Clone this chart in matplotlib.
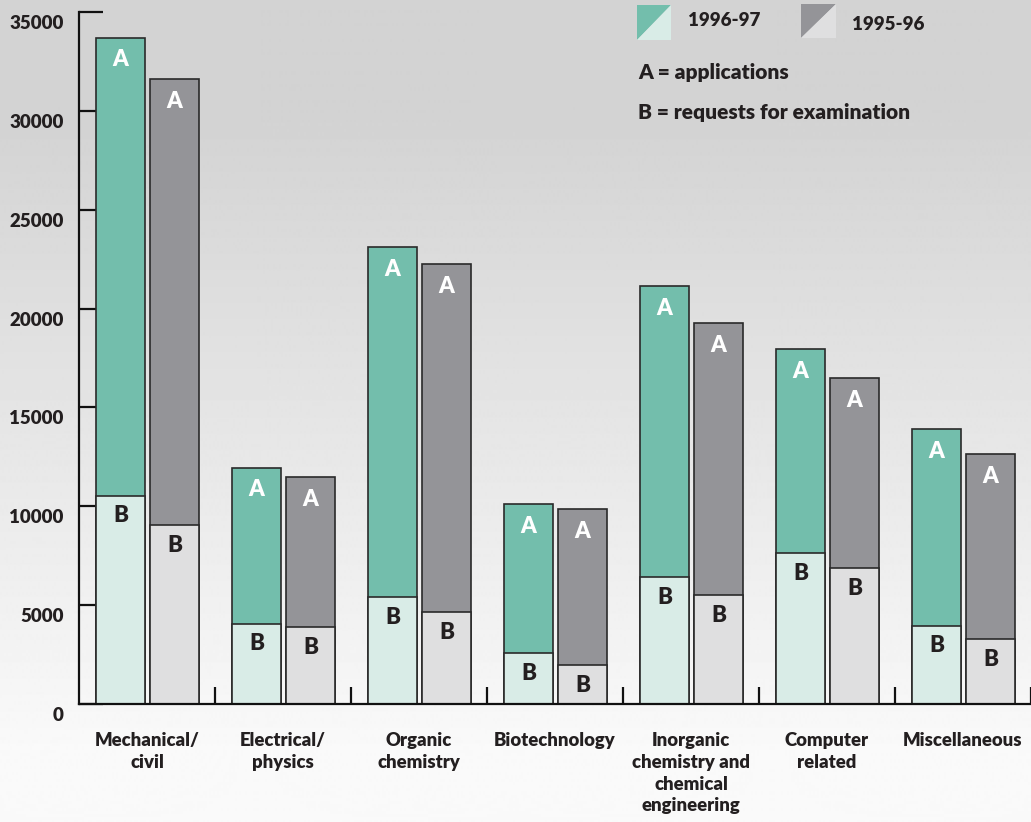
import numpy as np
import matplotlib
matplotlib.use("Agg")
import matplotlib.pyplot as plt
import matplotlib.transforms as mtransforms
from matplotlib.patches import Polygon

# ---- data ----
categories = ["Mechanical/\ncivil", "Electrical/\nphysics", "Organic\nchemistry",
              "Biotechnology", "Inorganic\nchemistry and\nchemical\nengineering",
              "Computer\nrelated", "Miscellaneous"]
apps_9697 = [33700, 11950, 23100, 10120, 21150, 17950, 13900]
exam_9697 = [10530, 4060, 5410, 2580, 6420, 7640, 3960]
apps_9596 = [31600, 11480, 22250, 9860, 19270, 16490, 12640]
exam_9596 = [9050, 3880, 4650, 1970, 5510, 6880, 3270]
yticks = [0, 5000, 10000, 15000, 20000, 25000, 30000, 35000]
series_labels = ["1996-97", "1995-96"]
notes = ["A = applications", "B = requests for examination"]

# ---- style ----
FONT = ["Lato", "DejaVu Sans"]
plt.rcParams['font.family'] = FONT
TXT = "#231f20"
EDGE = "#2a2a2a"
c_a1, c_b1 = "#73beac", "#d9ece7"
c_a2, c_b2 = "#949498", "#dfdfe0"

W, H = 1031, 822
fig = plt.figure(figsize=(W / 100, H / 100), dpi=100)

# background gradient
bg = fig.add_axes([0, 0, 1, 1], zorder=-10)
ys = np.arange(H)
vals = np.clip(211 + (ys - 120) * (250 - 211) / (760 - 120), 211, 250) / 255.0
img = np.repeat(vals[:, None], 2, axis=1)
bg.imshow(img, cmap="gray", vmin=0, vmax=1, aspect="auto", extent=[0, 1, 0, 1], origin="upper")
bg.axis("off")

ax = fig.add_axes([79 / W, (H - 704) / H, 1 - 79 / W, (704 - 12) / H])
ax.patch.set_alpha(0)
ax.set_xlim(0, 7)
ax.set_ylim(0, 35000)

n = len(categories)
x = np.arange(n)
bw = 0.36
off1, off2 = 0.125, 0.522
lw = 1.2

for i in range(n):
    for off, a, b, ca, cb, in [(off1, apps_9697[i], exam_9697[i], c_a1, c_b1),
                               (off2, apps_9596[i], exam_9596[i], c_a2, c_b2)]:
        ax.bar(x[i] + off, a, width=bw, align="edge", color=ca, edgecolor=EDGE, linewidth=lw, zorder=2)
        ax.bar(x[i] + off, b, width=bw, align="edge", color=cb, edgecolor=EDGE, linewidth=lw, zorder=3)
        cx = x[i] + off + bw / 2
        ax.annotate("A", (cx, a), xytext=(0, -16), textcoords="offset points",
                    ha="center", va="center", color="white", fontsize=16, fontweight="heavy", zorder=5)
        ax.annotate("B", (cx, b), xytext=(0, -14.5), textcoords="offset points",
                    ha="center", va="center", color=TXT, fontsize=16, fontweight="heavy", zorder=5)

for s in ["top", "right"]:
    ax.spines[s].set_visible(False)
for s in ["left", "bottom"]:
    ax.spines[s].set_linewidth(1.6)
    ax.spines[s].set_color("#111111")
    ax.spines[s].set_zorder(4)

ax.set_yticks(yticks)
ax.set_yticklabels([str(v) for v in yticks])
ax.tick_params(axis="y", direction="in", length=17, width=1.6, color="#111111",
               pad=11, labelsize=13.5, labelcolor=TXT)
shift = mtransforms.ScaledTranslation(0, -10 / 100, fig.dpi_scale_trans)
for lab in ax.get_yticklabels():
    lab.set_fontweight("heavy")
    lab.set_transform(lab.get_transform() + shift)

ax.set_xticks(np.arange(1, n + 1))
ax.set_xticklabels([""] * n)
ax.tick_params(axis="x", direction="in", length=12, width=1.6, color="#111111")
for t in ax.xaxis.get_major_ticks():
    t.tick1line.set_clip_on(False)

trans = mtransforms.blended_transform_factory(ax.transData, ax.transAxes)
for i, cat in enumerate(categories):
    ax.annotate(cat, (x[i] + 0.5, 0), xycoords=trans, xytext=(0, -20.5), textcoords="offset points",
                ha="center", va="top", fontsize=13.3, fontweight="heavy", color=TXT,
                linespacing=1.33, annotation_clip=False)

# legend
def fx(px):
    return px / W
def fy(py):
    return 1 - py / H

for (x0, x1, y0, y1, cd, cl, lx, ly, lab) in [
        (637, 671, 5, 40, c_a1, c_b1, 688, 21, series_labels[0]),
        (801, 836, 4, 38, c_a2, c_b2, 852, 25, series_labels[1])]:
    fig.patches.append(Polygon([(fx(x0), fy(y0)), (fx(x1), fy(y0)), (fx(x0), fy(y1))],
                               closed=True, facecolor=cd, edgecolor="none", transform=fig.transFigure))
    fig.patches.append(Polygon([(fx(x1), fy(y0)), (fx(x1), fy(y1)), (fx(x0), fy(y1))],
                               closed=True, facecolor=cl, edgecolor="none", transform=fig.transFigure))
    fig.text(fx(lx), fy(ly), lab, ha="left", va="center", fontsize=13.5, fontweight="heavy", color=TXT)

fig.text(fx(638), fy(72), notes[0], ha="left", va="center", fontsize=15, fontweight="heavy", color=TXT)
fig.text(fx(638), fy(112), notes[1], ha="left", va="center", fontsize=15, fontweight="heavy", color=TXT)

fig.savefig("out.png", dpi=100)
